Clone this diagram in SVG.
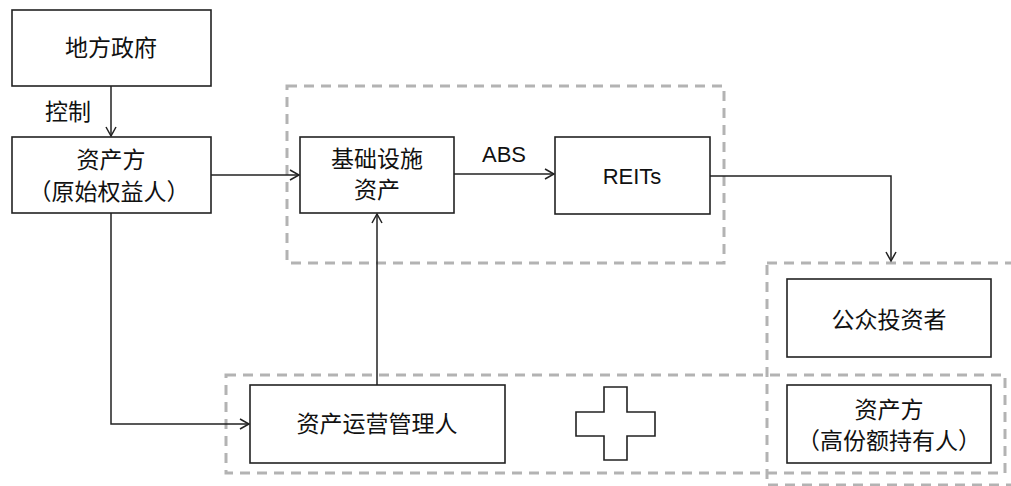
<svg xmlns="http://www.w3.org/2000/svg" width="1011" height="486" viewBox="0 0 1011 486">
<defs>
<style>
.box{fill:#fff;stroke:#222;stroke-width:1.6}
.grp{fill:none;stroke:#b3b3b3;stroke-width:3;stroke-dasharray:10 7}
.t{font-family:"Noto Sans CJK SC","Noto Sans",sans-serif;font-size:23px;fill:#111;text-anchor:middle}
.lat{font-family:"Liberation Sans",Arial,sans-serif;font-size:22px;fill:#111;text-anchor:middle}
.c{fill:none;stroke:#222;stroke-width:1.5}
</style>
<marker id="arr" markerUnits="userSpaceOnUse" markerWidth="12" markerHeight="14" refX="10" refY="6" orient="auto">
<path d="M1,1 L10,6 L1,11" fill="none" stroke="#222" stroke-width="1.5"/>
</marker>
</defs>
<rect width="1011" height="486" fill="#fff"/>
<g id="groups">
<rect class="grp" x="287" y="86" width="437" height="177"/>
<rect class="grp" x="767" y="263" width="260" height="222"/>
<rect class="grp" x="226" y="375" width="779" height="98"/>
</g>
<g id="connectors">
<path class="c" d="M111,86 V136" marker-end="url(#arr)"/>
<path class="c" d="M211,175 H299" marker-end="url(#arr)"/>
<path class="c" d="M454,174 H554" marker-end="url(#arr)"/>
<path class="c" d="M710,176 H891 V261" marker-end="url(#arr)"/>
<path class="c" d="M111,213 V424 H249" marker-end="url(#arr)"/>
<path class="c" d="M377,385 V214" marker-end="url(#arr)"/>
<text class="t" x="68" y="120">控制</text>
<text class="lat" x="504" y="162">ABS</text>
</g>
<g id="gov">
<rect class="box" x="12" y="10" width="199" height="76"/>
<text class="t" x="111" y="56">地方政府</text>
</g>
<g id="owner">
<rect class="box" x="12" y="137" width="199" height="76"/>
<text class="t" x="111" y="168">资产方</text>
<text class="t" x="109" y="200">（原始权益人）</text>
</g>
<g id="infra">
<rect class="box" x="300" y="137" width="154" height="76"/>
<text class="t" x="377" y="167">基础设施</text>
<text class="t" x="377" y="198">资产</text>
</g>
<g id="reits">
<rect class="box" x="555" y="137" width="155" height="77"/>
<text class="lat" x="632" y="184">REITs</text>
</g>
<g id="public">
<rect class="box" x="787" y="279" width="204" height="78"/>
<text class="t" x="889" y="328">公众投资者</text>
</g>
<g id="holder">
<rect class="box" x="787" y="385" width="204" height="78"/>
<text class="t" x="889" y="418">资产方</text>
<text class="t" x="889" y="449">（高份额持有人）</text>
</g>
<g id="manager">
<rect class="box" x="250" y="385" width="255" height="78"/>
<text class="t" x="377" y="432">资产运营管理人</text>
</g>
<g id="plus">
<polygon class="box" points="604,387 627,387 627,412 655,412 655,436 627,436 627,460 604,460 604,436 576,436 576,412 604,412"/>
</g>
</svg>
